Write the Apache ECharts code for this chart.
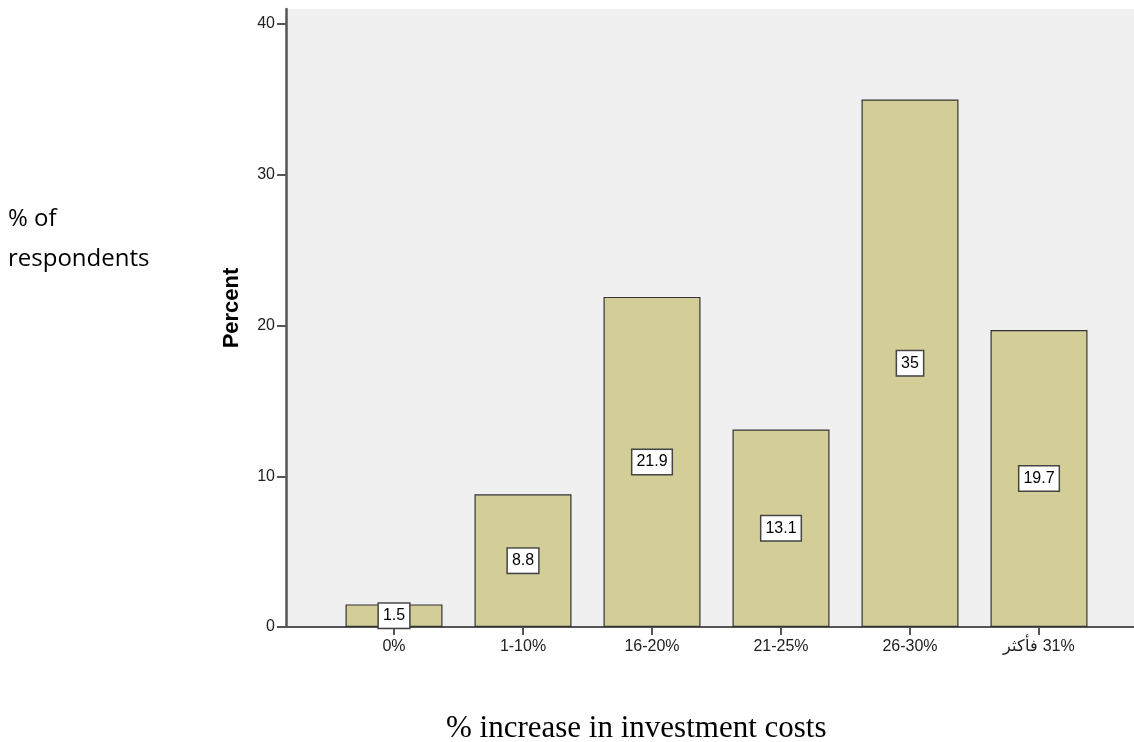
<!DOCTYPE html>
<html>
<head>
<meta charset="utf-8">
<script src="https://cdn.jsdelivr.net/npm/echarts@6/dist/echarts.min.js"></script>
<style>html,body{margin:0;padding:0;background:#fff}#c{width:1134px;height:742px}</style>
</head>
<body>
<div id="c"></div>
<script>
const categories = ['0%', '1-10%', '16-20%', '21-25%', '26-30%', '\u202B31% فأكثر\u202C'];
const percentValues = [1.5, 8.8, 21.9, 13.1, 35, 19.7];
const yTicks = [0, 10, 20, 30, 40];

const chart = echarts.init(document.getElementById('c'), null, {renderer: 'canvas'});
const font = '"Liberation Sans", Arial, sans-serif';
chart.setOption({
  animation: false,
  backgroundColor: '#ffffff',
  grid: [
    {left: 286, right: 0, top: 9, bottom: 115, show: true, backgroundColor: '#f0f0f0', borderWidth: 0},
    {left: 329.5, right: 30.5, top: 9, bottom: 115}
  ],
  xAxis: [
    {gridIndex: 0, type: 'value', min: 0, max: 1, axisLine: {show: true, onZero: false, lineStyle: {color: '#555', width: 2}}, axisTick: {show: false}, axisLabel: {show: false}, splitLine: {show: false}},
    {gridIndex: 1, type: 'category', data: categories, boundaryGap: true,
     axisLine: {show: false},
     axisTick: {show: true, alignWithLabel: true, length: 8, lineStyle: {color: '#555', width: 2}},
     axisLabel: {color: '#222', fontSize: 16, fontFamily: font, margin: 12},
     splitLine: {show: false}}
  ],
  yAxis: [
    {gridIndex: 0, type: 'value', min: 0, max: 41, interval: 10,
     axisLine: {show: true, lineStyle: {color: '#555', width: 2.5}},
     axisTick: {show: true, length: 9, customValues: yTicks, lineStyle: {color: '#555', width: 2}},
     axisLabel: {color: '#222', fontSize: 16, fontFamily: font, margin: 11, customValues: yTicks},
     splitLine: {show: false}},
    {gridIndex: 1, type: 'value', min: 0, max: 41, show: false, splitLine: {show: false}}
  ],
  series: [{
    type: 'bar', xAxisIndex: 1, yAxisIndex: 1, data: percentValues, barWidth: 97,
    itemStyle: {color: '#d3ce97', borderColor: '#333', borderWidth: 1.2},
    label: {show: true, position: 'inside', color: '#000', fontSize: 16, fontFamily: font,
      backgroundColor: '#fff', borderColor: '#444', borderWidth: 1.5, padding: [4, 4, 4, 4]}
  }],
  graphic: [
    {type: 'text', x: 232, y: 308, rotation: Math.PI / 2,
     style: {text: 'Percent', font: 'bold 22px "Liberation Sans", Arial, sans-serif', fill: '#000', align: 'center', verticalAlign: 'middle'}},
    {type: 'text', left: 8, top: 207, style: {text: '% of', font: '24px "Open Sans", sans-serif', fill: '#000'}},
    {type: 'text', left: 8, top: 247, style: {text: 'respondents', font: '24px "Open Sans", sans-serif', fill: '#000'}},
    {type: 'text', left: 446, top: 713, style: {text: '% increase in investment costs', font: '31px "Liberation Serif", "Times New Roman", serif', fill: '#000'}}
  ]
});
</script>
</body>
</html>
